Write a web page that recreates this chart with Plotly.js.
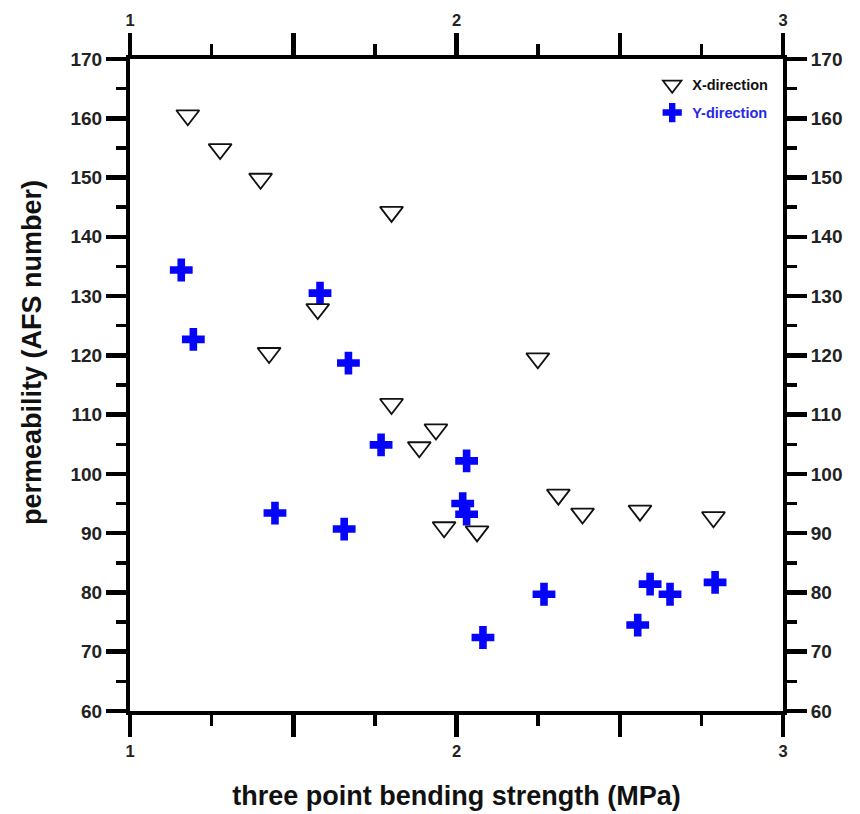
<!DOCTYPE html>
<html>
<head>
<meta charset="utf-8">
<script src="https://cdn.plot.ly/plotly-3.0.1.min.js"></script>
<style>
  html, body { margin: 0; padding: 0; background: #fff; }
  #chart { width: 860px; height: 814px; }
</style>
</head>
<body>
<div id="chart"></div>
<script>
// ---- data ----
const xDirStrength = [1.177, 1.276, 1.400, 1.801, 1.575, 1.426, 1.801, 1.937, 1.886, 1.962, 2.063, 2.249, 2.312, 2.386, 2.562, 2.787];
const xDirPerm     = [160.5, 154.8, 149.8, 144.2, 127.8, 120.4, 111.8, 107.5, 104.5, 91.0, 90.3, 119.5, 96.5, 93.3, 93.8, 92.7];

const yDirStrength = [1.157, 1.582, 1.194, 1.669, 1.769, 2.031, 1.444, 1.656, 2.019, 2.031, 2.268, 2.081, 2.593, 2.654, 2.792, 2.555];
const yDirPerm     = [134.4, 130.5, 122.7, 118.7, 104.9, 102.2, 93.4, 90.7, 95.0, 93.2, 79.7, 72.4, 81.4, 79.7, 81.7, 74.5];

const seriesNames = ['X-direction', 'Y-direction'];
const xTickVals  = [1, 1.5, 2, 2.5, 3];
const xTickText  = ['1', '', '2', '', '3'];
const xMinorVals = [1.25, 1.75, 2.25, 2.75];
const xRange = [1, 3];
const yRange = [60, 170];
const xTitle = 'three point bending strength (MPa)';
const yTitle = 'permeability (AFS number)';

// ---- styling ----
const FONT = 'Liberation Sans, Arial, sans-serif';
const BLUE = 'rgb(5,5,250)';

const traces = [
  {
    type: 'scatter', mode: 'markers',
    name: '<span style="color:rgb(40,40,230)">' + seriesNames[1] + '</span>',
    legendgroup: 'ydir', legendrank: 2,
    x: yDirStrength, y: yDirPerm,
    marker: { symbol: 'cross', size: 19, color: BLUE, line: { width: 0 } },
    xaxis: 'x', yaxis: 'y'
  },
  {
    type: 'scatter', mode: 'markers',
    name: seriesNames[0],
    legendgroup: 'xdir', legendrank: 1,
    x: xDirStrength, y: xDirPerm,
    marker: { symbol: 'triangle-down', size: 20, color: 'rgba(255,255,255,1)', line: { width: 1.8, color: '#111' } },
    xaxis: 'x', yaxis: 'y'
  },
  // empty helper trace so the mirrored (top/right) axes form a subplot
  { type: 'scatter', mode: 'markers', x: [], y: [], xaxis: 'x2', yaxis: 'y2', showlegend: false, hoverinfo: 'skip' }
];

function xAxisBase(side) {
  return {
    range: xRange,
    side: side,
    tickmode: 'array', tickvals: xTickVals, ticktext: xTickText,
    ticks: 'outside', ticklen: 22, tickwidth: 4.5, tickcolor: '#000',
    minor: { tickmode: 'array', tickvals: xMinorVals, ticks: 'outside', ticklen: 11, tickwidth: 3.5, tickcolor: '#000', showgrid: false },
    showline: true, linewidth: 4, linecolor: '#000',
    showgrid: false, zeroline: false,
    tickfont: { family: FONT, size: 16.5, color: '#222', weight: 'bold' },
    fixedrange: true
  };
}
function yAxisBase(side) {
  return {
    range: yRange,
    side: side,
    tickmode: 'linear', tick0: 60, dtick: 10,
    ticks: 'outside', ticklen: 20, tickwidth: 4.5, tickcolor: '#000',
    minor: { dtick: 5, ticks: 'outside', ticklen: 10, tickwidth: 3.5, tickcolor: '#000', showgrid: false },
    showline: true, linewidth: 4, linecolor: '#000',
    showgrid: false, zeroline: false,
    tickfont: { family: FONT, size: 19, color: '#222', weight: 'bold' },
    fixedrange: true
  };
}

const xaxis = Object.assign(xAxisBase('bottom'), {
  anchor: 'y',
  title: { text: xTitle, font: { family: FONT, size: 27, color: '#111', weight: 'bold' }, standoff: 28 }
});
const xaxis2 = Object.assign(xAxisBase('top'), { overlaying: 'x', anchor: 'y2' });
const yaxis = Object.assign(yAxisBase('left'), { anchor: 'x' });
const yaxis2 = Object.assign(yAxisBase('right'), { overlaying: 'y', anchor: 'x2' });

const layout = {
  width: 860, height: 814,
  margin: { l: 130, r: 77, t: 59, b: 103, pad: 0 },
  paper_bgcolor: '#fff', plot_bgcolor: '#fff',
  font: { family: FONT, color: '#111' },
  showlegend: true,
  legend: {
    x: 0.985, y: 0.985, xanchor: 'right', yanchor: 'top',
    bgcolor: 'rgba(0,0,0,0)', borderwidth: 0,
    traceorder: 'grouped',
    tracegroupgap: 6,
    font: { family: FONT, size: 14.5, color: '#111', weight: 'bold' },
    itemsizing: 'trace'
  },
  xaxis: xaxis, xaxis2: xaxis2, yaxis: yaxis, yaxis2: yaxis2,
  annotations: [{
    text: yTitle, textangle: -90,
    xref: 'paper', yref: 'paper',
    x: -0.150, y: 0.549, xanchor: 'center', yanchor: 'middle',
    showarrow: false,
    font: { family: FONT, size: 27, color: '#111', weight: 'bold' }
  }]
};

Plotly.newPlot('chart', traces, layout, { displayModeBar: false, staticPlot: true });
</script>
</body>
</html>
